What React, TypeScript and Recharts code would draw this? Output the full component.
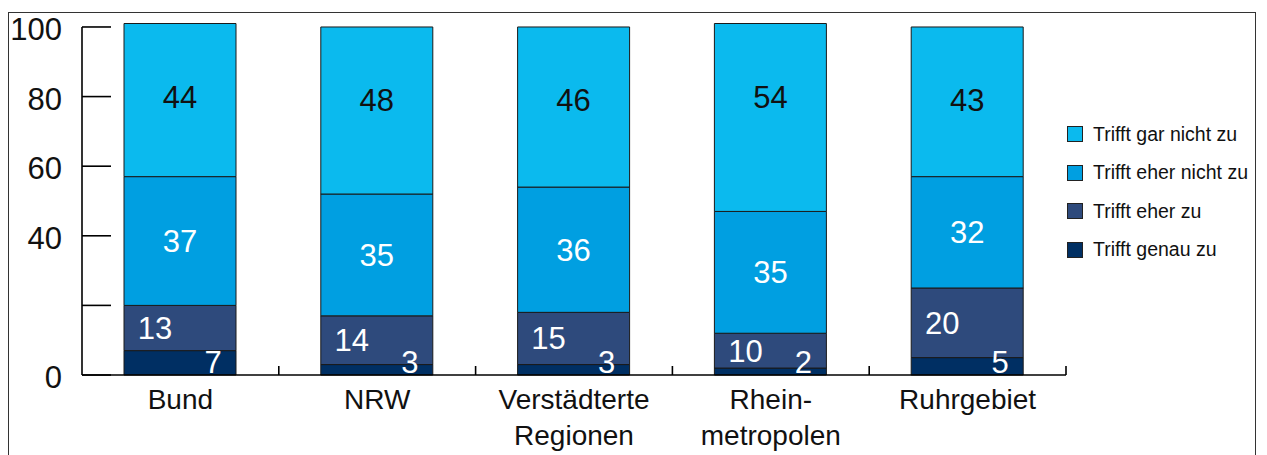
import { BarChart, Bar, XAxis, YAxis, Legend, LabelList } from "recharts";

const categories = ["Bund", "NRW", "Verstädterte\nRegionen", "Rhein-\nmetropolen", "Ruhrgebiet"];
const genauZu = [7, 3, 3, 2, 5];
const eherZu = [13, 14, 15, 10, 20];
const eherNichtZu = [37, 35, 36, 35, 32];
const garNichtZu = [44, 48, 46, 54, 43];

const yTicks = [0, 20, 40, 60, 80, 100];
const yTickLabels = ["0", "", "40", "60", "80", "100"];

const seriesKeys = ["genau", "eher", "eherNicht", "garNicht"];
const seriesNames = ["Trifft genau zu", "Trifft eher zu", "Trifft eher nicht zu", "Trifft gar nicht zu"];
const seriesColors = ["#002f63", "#2e4a7c", "#009fe1", "#0bbaee"];

const FONT = "'Liberation Sans', Arial, sans-serif";

const data = categories.map((name, i) => ({
  name,
  genau: genauZu[i],
  eher: eherZu[i],
  eherNicht: eherNichtZu[i],
  garNicht: garNichtZu[i],
}));

// some stacks add up to 101, so the scale goes up to the biggest stack
const maxTotal = Math.max(...categories.map((_, i) => genauZu[i] + eherZu[i] + eherNichtZu[i] + garNichtZu[i]));

const ValueTick = (props: any) => {
  const { x, y, payload, height } = props;
  const label = yTickLabels[yTicks.indexOf(payload.value)];
  const isTop = payload.value === yTicks[yTicks.length - 1];
  return (
    <g>
      {isTop && height ? (
        <line x1={x} x2={x} y1={y} y2={y + (height * payload.value) / maxTotal} stroke="#000" strokeWidth={1.6} />
      ) : null}
      <line x1={x} x2={x + 29} y1={y} y2={y} stroke="#000" strokeWidth={1.6} />
      {label ? (
        <text x={x - 20} y={y} dy={13} textAnchor="end" fontSize={31} fill="#111" fontFamily={FONT}>
          {label}
        </text>
      ) : null}
    </g>
  );
};

const CategoryTick = (props: any) => {
  const { x, y, payload } = props;
  const lines = String(payload.value).split("\n");
  const half = payload.offset ?? 98.4;
  return (
    <g>
      <line x1={x + half} x2={x + half} y1={y} y2={y - 9} stroke="#000" strokeWidth={1.6} />
      <text x={x} y={y + 34} textAnchor="middle" fontSize={28} fill="#111" fontFamily={FONT}>
        {lines.map((l, i) => (
          <tspan key={i} x={x} dy={i === 0 ? 0 : 36}>
            {l}
          </tspan>
        ))}
      </text>
    </g>
  );
};

// labels inside the segments, placed like in the original
const topLabel = (props: any) => {
  const { x, y, width, value } = props;
  return (
    <text x={x + width / 2} y={y + 73} dy={11} textAnchor="middle" fontSize={31} fill="#111" fontFamily={FONT}>
      {value}
    </text>
  );
};

const centerLabel = (props: any) => {
  const { x, y, width, height, value } = props;
  return (
    <text x={x + width / 2} y={y + height / 2} dy={11} textAnchor="middle" fontSize={31} fill="#fff" fontFamily={FONT}>
      {value}
    </text>
  );
};

const leftLabel = (props: any) => {
  const { x, y, height, value } = props;
  return (
    <text x={x + 31} y={y + height / 2} dy={11} textAnchor="middle" fontSize={31} fill="#fff" fontFamily={FONT}>
      {value}
    </text>
  );
};

const bottomLabel = (props: any) => {
  const { x, y, width, height, value } = props;
  return (
    <text x={x + width - 23} y={y + height - 13} dy={11} textAnchor="middle" fontSize={31} fill="#fff" fontFamily={FONT}>
      {value}
    </text>
  );
};

const renderLegend = () => (
  <div style={{ fontFamily: FONT, fontSize: 19.5, color: "#111" }}>
    {[3, 2, 1, 0].map((i) => (
      <div key={i} style={{ display: "flex", alignItems: "center", height: 38.5 }}>
        <span
          style={{
            display: "inline-block",
            width: 16,
            height: 16,
            background: seriesColors[i],
            border: "1px solid #222",
            boxSizing: "border-box",
            marginRight: 10,
          }}
        />
        <span>{seriesNames[i]}</span>
      </div>
    ))}
  </div>
);

const labelRenderers = [bottomLabel, leftLabel, centerLabel, topLabel];

export default function App() {
  return (
    <div
      style={{
        position: "absolute",
        left: 8,
        top: 12,
        width: 1248,
        height: 470,
        border: "1.5px solid #333",
        boxSizing: "border-box",
        background: "#fff",
      }}
    >
      <BarChart width={1245} height={442} data={data} margin={{ top: 10.5, right: 188, left: 0, bottom: 0 }} barSize={112}>
        <XAxis
          dataKey="name"
          axisLine={{ stroke: "#000", strokeWidth: 1.6 }}
          tickLine={false}
          tickSize={0}
          tickMargin={0}
          height={80}
          interval={0}
          tick={<CategoryTick />}
        />
        <YAxis
          type="number"
          domain={[0, maxTotal]}
          ticks={yTicks}
          width={73}
          axisLine={false}
          tickLine={false}
          tickSize={0}
          tickMargin={0}
          interval={0}
          tick={<ValueTick />}
        />
        <Legend
          layout="vertical"
          align="center"
          verticalAlign="middle"
          content={renderLegend}
          wrapperStyle={{ left: 1058, top: 102, width: 190 }}
        />
        {seriesKeys.map((k, i) => (
          <Bar
            key={k}
            dataKey={k}
            name={seriesNames[i]}
            stackId="a"
            fill={seriesColors[i]}
            stroke="#1a1a1a"
            strokeWidth={1}
            isAnimationActive={false}
          >
            <LabelList dataKey={k} content={labelRenderers[i]} />
          </Bar>
        ))}
      </BarChart>
    </div>
  );
}
